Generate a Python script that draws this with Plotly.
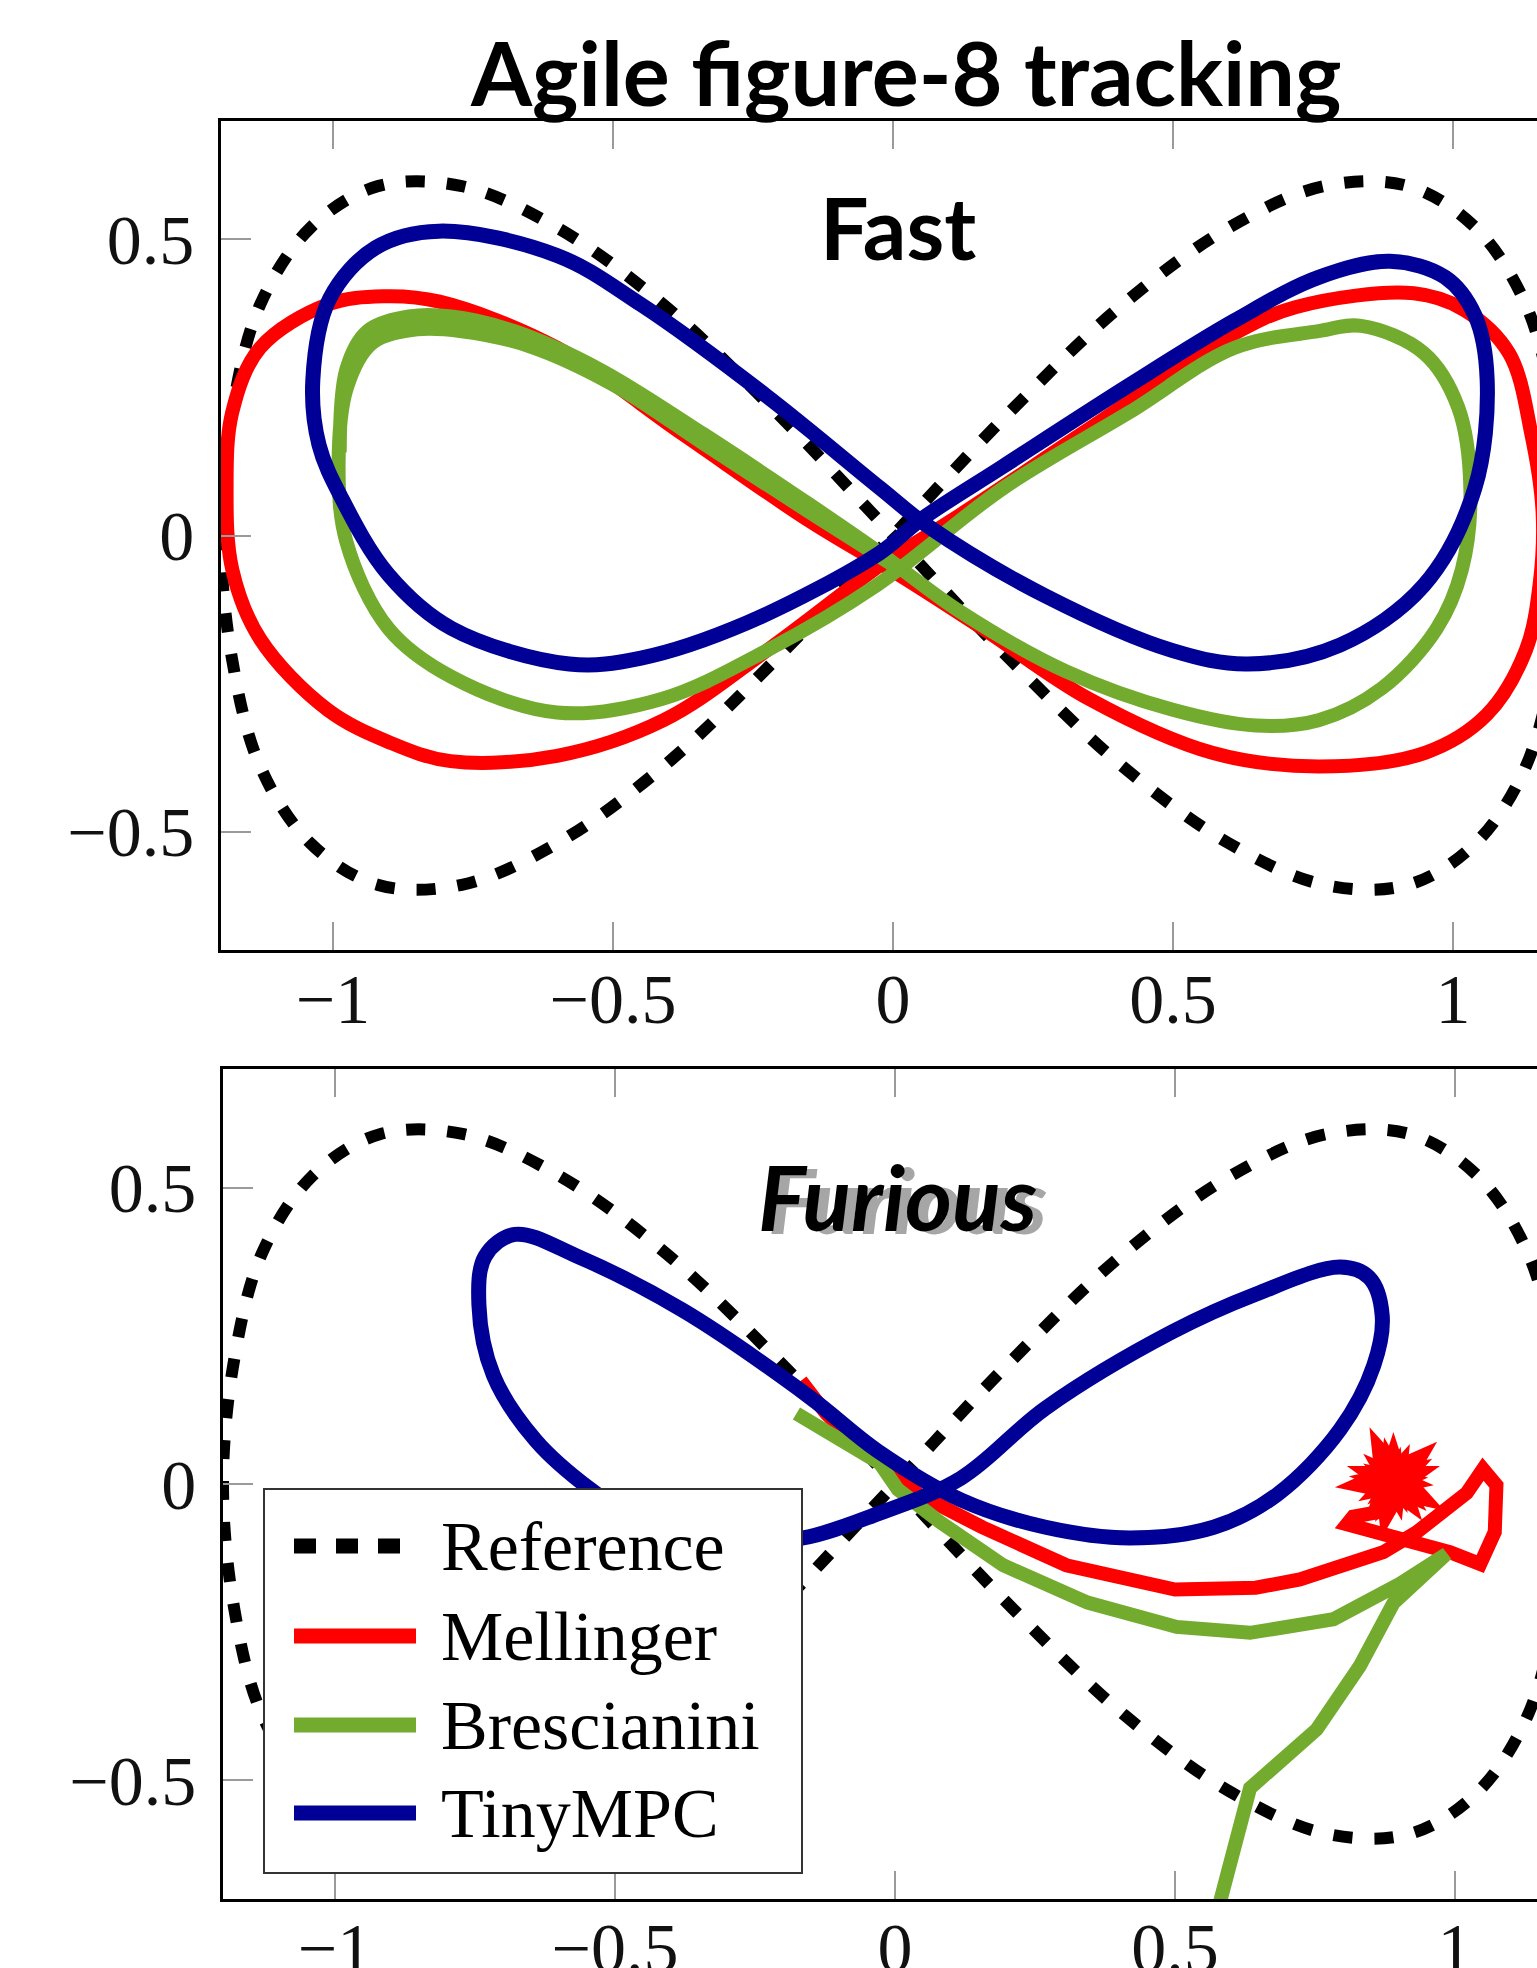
import plotly.graph_objects as go

# ---------------- data ----------------
# reference figure-8 (dashed), same in both panels
ref_x = [1.2, 1.18, 1.13, 1.04, 0.92, 0.77, 0.6, 0.41, 0.21, 0.0, -0.21, -0.41, -0.6, -0.77, -0.92,
         -1.04, -1.13, -1.18, -1.2, -1.18, -1.13, -1.04, -0.92, -0.77, -0.6, -0.41, -0.21, 0.0,
         0.21, 0.41, 0.6, 0.77, 0.92, 1.04, 1.13, 1.18, 1.2]
ref_y = [0.0, 0.21, 0.39, 0.52, 0.59, 0.59, 0.52, 0.39, 0.21, 0.0, -0.21, -0.39, -0.52, -0.59, -0.59,
         -0.52, -0.39, -0.21, 0.0, 0.21, 0.39, 0.52, 0.59, 0.59, 0.52, 0.39, 0.21, 0.0,
         -0.21, -0.39, -0.52, -0.59, -0.59, -0.52, -0.39, -0.21, 0.0]

# Fast panel
mell_fast_x = [0.01, 0.12, 0.35, 0.60, 0.72, 0.93, 1.02, 1.10, 1.14, 1.16, 1.155, 1.13, 1.06, 0.95, 0.76,
               0.57, 0.35, 0.16, 0.01, -0.15, -0.375, -0.60, -0.81, -0.91, -1.01, -1.13, -1.18, -1.19,
               -1.18, -1.13, -1.01, -0.90, -0.79, -0.60, -0.41, -0.225, -0.02, 0.01]
mell_fast_y = [-0.03, 0.035, 0.18, 0.336, 0.386, 0.409, 0.381, 0.308, 0.171, 0.04, -0.08, -0.194, -0.303,
               -0.367, -0.39, -0.367, -0.276, -0.157, -0.066, 0.025, 0.171, 0.317, 0.395, 0.404, 0.39,
               0.317, 0.208, 0.08, -0.057, -0.175, -0.294, -0.349, -0.381, -0.372, -0.312, -0.194,
               -0.048, -0.03]

bres_fast_x = [-0.988, -0.976, -0.939, -0.864, -0.788, -0.676, -0.525, -0.338, -0.15, -0.03, 0.122, 0.31,
               0.498, 0.648, 0.76, 0.873, 0.971, 1.016, 1.031, 1.009, 0.948, 0.836, 0.76, 0.61, 0.422,
               0.197, -0.029, -0.225, -0.413, -0.6, -0.788, -0.901, -0.976, -0.99, -0.975, -0.93, -0.85,
               -0.77, -0.65, -0.5, -0.33, -0.15, 0.0]
bres_fast_y = [0.14, 0.281, 0.345, 0.37, 0.37, 0.345, 0.281, 0.171, 0.053, -0.025, -0.13, -0.23, -0.294,
               -0.321, -0.312, -0.258, -0.157, -0.057, 0.08, 0.217, 0.308, 0.354, 0.345, 0.317, 0.208,
               0.08, -0.084, -0.194, -0.276, -0.299, -0.239, -0.157, -0.011, 0.12, 0.25, 0.325, 0.348,
               0.345, 0.32, 0.255, 0.15, 0.04, -0.05]

tiny_fast_x = [0.047, 0.197, 0.422, 0.61, 0.76, 0.888, 0.986, 1.039, 1.061, 1.039, 0.948, 0.798, 0.633,
               0.498, 0.272, 0.062, -0.023, -0.225, -0.45, -0.6, -0.811, -0.924, -1.006, -1.036, -1.025,
               -0.984, -0.901, -0.788, -0.578, -0.45, -0.262, -0.023, 0.047]
tiny_fast_y = [0.025, 0.117, 0.254, 0.363, 0.436, 0.463, 0.436, 0.372, 0.263, 0.08, -0.084, -0.185, -0.217,
               -0.194, -0.102, 0.016, 0.08, 0.235, 0.39, 0.473, 0.514, 0.486, 0.40, 0.263, 0.153, 0.062,
               -0.066, -0.157, -0.217, -0.207, -0.148, -0.029, 0.025]

# Furious panel
mell_fur_x = [-0.168, -0.123, -0.06, -0.01, 0.043, 0.156, 0.306, 0.50, 0.644, 0.723, 0.872, 0.932, 1.021,
              1.05, 1.074, 1.071, 1.045, 0.991, 0.92, 0.85, 0.807, 0.818, 0.86, 0.89]
mell_fur_y = [0.174, 0.119, 0.06, 0.02, -0.018, -0.073, -0.137, -0.178, -0.175, -0.161, -0.115, -0.081,
              -0.015, 0.025, -0.002, -0.081, -0.135, -0.115, -0.095, -0.08, -0.068, -0.055, -0.048, 0.005]

bres_fur_x = [-0.176, -0.09, -0.027, 0.005, 0.08, 0.193, 0.344, 0.503, 0.634, 0.783, 0.902, 0.985, 0.89,
              0.83, 0.753, 0.634, 0.616, 0.58, 0.565]
bres_fur_y = [0.119, 0.07, 0.035, -0.009, -0.064, -0.137, -0.20, -0.241, -0.251, -0.228, -0.168, -0.118,
              -0.201, -0.307, -0.414, -0.513, -0.573, -0.70, -0.76]

tiny_fur_x = [-0.03, 0.118, 0.269, 0.494, 0.644, 0.795, 0.847, 0.87, 0.855, 0.795, 0.682, 0.569, 0.419,
              0.269, 0.118, -0.03, -0.153, -0.379, -0.567, -0.679, -0.732, -0.743, -0.717, -0.642,
              -0.544, -0.45, -0.32, -0.164, -0.03]
tiny_fur_y = [-0.05, 0.01, 0.128, 0.256, 0.32, 0.366, 0.348, 0.284, 0.20, 0.092, -0.018, -0.073, -0.091,
              -0.073, -0.027, 0.055, 0.147, 0.293, 0.384, 0.421, 0.384, 0.302, 0.183, 0.074, -0.009,
              -0.065, -0.10, -0.091, -0.05]

crash_x = [0.89]
crash_y = [0.005]

x_ticks = [-1, -0.5, 0, 0.5, 1]
x_tick_text = ["\u22121", "\u22120.5", "0", "0.5", "1"]
y_ticks = [-0.5, 0, 0.5]
y_tick_text = ["\u22120.5", "0", "0.5"]

series_names = ["Reference", "Mellinger", "Brescianini", "TinyMPC"]
series_colors = ["#000000", "#FF0000", "#73AB2E", "#000096"]

# ---------------- figure ----------------
W, H = 1537, 1968


def px(v):
    return v / W


def py(v):
    return 1 - v / H


fig = go.Figure()
LW = 14


def add_panel(xa, ya, mx, my, bx, by, tx, ty, shape_r="spline", shape_g="spline"):
    fig.add_trace(go.Scatter(x=ref_x, y=ref_y, mode="lines", xaxis=xa, yaxis=ya, name=series_names[0],
                             line=dict(color=series_colors[0], width=12, dash="19px,22px", shape="spline"),
                             showlegend=False))
    fig.add_trace(go.Scatter(x=mx, y=my, mode="lines", xaxis=xa, yaxis=ya, name=series_names[1],
                             line=dict(color=series_colors[1], width=LW, shape=shape_r), showlegend=False))
    fig.add_trace(go.Scatter(x=bx, y=by, mode="lines", xaxis=xa, yaxis=ya, name=series_names[2],
                             line=dict(color=series_colors[2], width=LW, shape=shape_g), showlegend=False))
    fig.add_trace(go.Scatter(x=tx, y=ty, mode="lines", xaxis=xa, yaxis=ya, name=series_names[3],
                             line=dict(color=series_colors[3], width=LW + 1, shape="spline"), showlegend=False))


add_panel("x", "y", mell_fast_x, mell_fast_y, bres_fast_x, bres_fast_y, tiny_fast_x, tiny_fast_y)
add_panel("x2", "y2", mell_fur_x, mell_fur_y, bres_fur_x, bres_fur_y, tiny_fur_x, tiny_fur_y,
          shape_r="linear", shape_g="linear")

# crash burst (several rotated stars)
for sym, size, ang in [("star", 70, 0), ("star", 58, 24), ("star", 84, 48), ("star", 50, 12),
                       ("star", 64, 60)]:
    fig.add_trace(go.Scatter(x=crash_x, y=crash_y, mode="markers", xaxis="x2", yaxis="y2", showlegend=False,
                             marker=dict(symbol=sym, size=size, angle=ang, color=series_colors[1],
                                         line=dict(width=0))))

tickfont = dict(family="Liberation Serif", size=70, color="#111111")
xcommon = dict(tickvals=x_ticks, ticktext=x_tick_text, ticks="inside", ticklen=28, tickwidth=2,
               tickcolor="#9a9a9a", showline=True, linecolor="black", linewidth=2.5, mirror="ticks",
               showgrid=False, zeroline=False, tickfont=tickfont, ticklabelstandoff=-14, fixedrange=True,
               automargin=False)
ycommon = dict(range=[-0.7, 0.7], tickvals=y_ticks, ticktext=y_tick_text, ticks="inside", ticklen=30,
               tickwidth=2, tickcolor="#9a9a9a", showline=True, linecolor="black", linewidth=2.5,
               mirror=False, showgrid=False, zeroline=False, tickfont=tickfont, ticklabelstandoff=10,
               fixedrange=True, automargin=False)

fig.update_layout(
    width=W, height=H, margin=dict(l=0, r=0, t=0, b=0, autoexpand=False), autosize=False,
    paper_bgcolor="white", plot_bgcolor="white", showlegend=False,
    xaxis=dict(domain=[px(221), 1], range=[-1.2, (W - 893) / 560], anchor="y", **xcommon),
    yaxis=dict(domain=[py(950), py(121)], anchor="x", **ycommon),
    xaxis2=dict(domain=[px(223), 1], range=[-1.2, (W - 895) / 560], anchor="y2", **xcommon),
    yaxis2=dict(domain=[py(1899), py(1069)], anchor="x2", **ycommon),
)

# titles
fig.add_annotation(x=px(905), y=py(72), xref="paper", yref="paper", text="Agile figure-8 tracking",
                   showarrow=False, xanchor="center", yanchor="middle",
                   font=dict(family="Lato", size=88, color="black", weight="bold"))
fig.add_annotation(x=px(898), y=py(226), xref="paper", yref="paper", text="Fast",
                   showarrow=False, xanchor="center", yanchor="middle",
                   font=dict(family="Lato", size=86, color="black", weight="bold"))
fig.add_annotation(x=px(907), y=py(1199), xref="paper", yref="paper", text="Furious",
                   showarrow=False, xanchor="center", yanchor="middle",
                   font=dict(family="Lato", size=90, color="#A6A6A6", weight="bold", style="italic"))
fig.add_annotation(x=px(897), y=py(1196), xref="paper", yref="paper", text="Furious",
                   showarrow=False, xanchor="center", yanchor="middle",
                   font=dict(family="Lato", size=90, color="black", weight="bold", style="italic"))

# legend box (drawn like the pgfplots legend)
fig.add_shape(type="rect", xref="paper", yref="paper", x0=px(264), x1=px(802), y0=py(1873), y1=py(1489),
              fillcolor="white", line=dict(color="#333333", width=2), layer="above")
rows = [1546, 1636, 1725, 1813]
for i, (name, col) in enumerate(zip(series_names, series_colors)):
    dash = "22px,20px" if i == 0 else "solid"
    fig.add_shape(type="line", xref="paper", yref="paper", x0=px(294), x1=px(416), y0=py(rows[i]),
                  y1=py(rows[i]), line=dict(color=col, width=15, dash=dash), layer="above")
    fig.add_annotation(x=px(439), y=py(rows[i]), xref="paper", yref="paper", text=name, showarrow=False,
                       xanchor="left", yanchor="middle",
                       font=dict(family="Liberation Serif", size=70, color="black"))

post = ("document.documentElement.style.margin='0';document.body.style.margin='0';"
        "document.body.style.padding='0';document.documentElement.style.overflow='hidden';"
        "document.body.style.overflow='hidden';")
fig.write_html("out.html", config={"displayModeBar": False}, post_script=post)
